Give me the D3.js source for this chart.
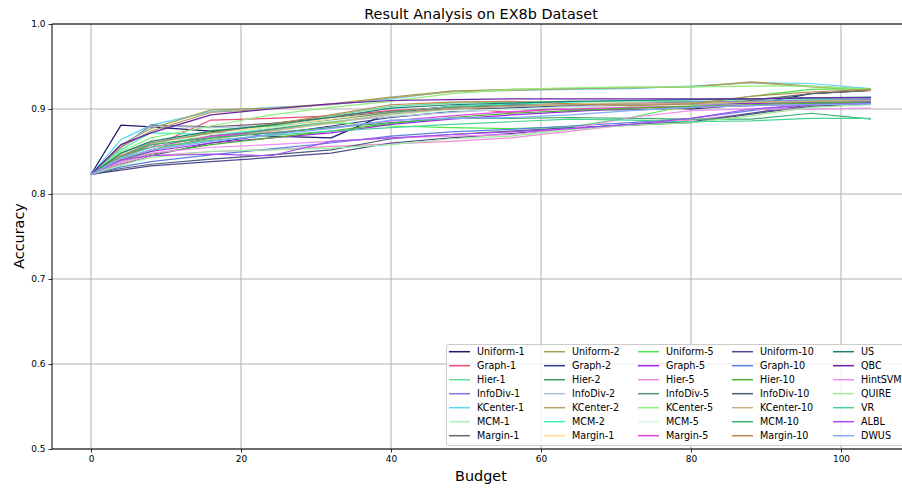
<!DOCTYPE html>
<html>
<head>
<meta charset="utf-8">
<script src="https://cdn.jsdelivr.net/npm/d3@7"></script>
<style>
  html, body { margin: 0; padding: 0; background: #fff; }
  svg { display: block; font-family: "DejaVu Sans", sans-serif; }
</style>
</head>
<body>
<svg id="chart" width="902" height="491"></svg>
<script>
// ---------- data ----------
const budgets = [0, 4, 8, 16, 24, 32, 40, 48, 56, 64, 72, 80, 88, 96, 104];
const xTicks = [0, 20, 40, 60, 80, 100];
const yTicks = [0.5, 0.6, 0.7, 0.8, 0.9, 1.0];

const uniform1  = [0.823, 0.881, 0.879, 0.874, 0.868, 0.866, 0.896, 0.903, 0.905, 0.905, 0.903, 0.900, 0.905, 0.918, 0.922];
const graph1    = [0.823, 0.846, 0.855, 0.887, 0.889, 0.892, 0.898, 0.902, 0.896, 0.902, 0.903, 0.902, 0.904, 0.907, 0.908];
const hier1     = [0.823, 0.848, 0.860, 0.872, 0.882, 0.892, 0.903, 0.907, 0.908, 0.909, 0.908, 0.909, 0.910, 0.911, 0.911];
const infoDiv1  = [0.823, 0.845, 0.858, 0.868, 0.875, 0.884, 0.895, 0.900, 0.903, 0.905, 0.907, 0.908, 0.909, 0.910, 0.911];
const kCenter1  = [0.823, 0.864, 0.881, 0.897, 0.902, 0.905, 0.912, 0.921, 0.922, 0.923, 0.924, 0.927, 0.931, 0.930, 0.924];
const mcm1      = [0.823, 0.838, 0.850, 0.865, 0.874, 0.883, 0.893, 0.899, 0.902, 0.904, 0.905, 0.907, 0.908, 0.909, 0.909];
const margin1   = [0.823, 0.855, 0.881, 0.879, 0.883, 0.890, 0.897, 0.900, 0.901, 0.899, 0.899, 0.901, 0.910, 0.918, 0.922];
const uniform2  = [0.823, 0.858, 0.877, 0.899, 0.901, 0.906, 0.914, 0.921, 0.923, 0.924, 0.925, 0.926, 0.932, 0.927, 0.923];
const graph2    = [0.823, 0.835, 0.845, 0.860, 0.870, 0.880, 0.890, 0.897, 0.901, 0.904, 0.905, 0.906, 0.907, 0.908, 0.909];
const hier2     = [0.823, 0.842, 0.858, 0.869, 0.878, 0.887, 0.897, 0.902, 0.904, 0.905, 0.906, 0.907, 0.908, 0.909, 0.910];
const infoDiv2  = [0.823, 0.854, 0.880, 0.878, 0.880, 0.885, 0.891, 0.896, 0.900, 0.903, 0.905, 0.906, 0.908, 0.909, 0.910];
const kCenter2  = [0.823, 0.855, 0.874, 0.896, 0.900, 0.905, 0.913, 0.920, 0.922, 0.924, 0.925, 0.926, 0.931, 0.926, 0.922];
const mcm2      = [0.823, 0.852, 0.872, 0.870, 0.876, 0.884, 0.895, 0.903, 0.906, 0.908, 0.910, 0.911, 0.912, 0.913, 0.913];
const margin2   = [0.823, 0.840, 0.852, 0.870, 0.880, 0.888, 0.896, 0.902, 0.904, 0.906, 0.907, 0.906, 0.908, 0.909, 0.910];
const uniform5  = [0.823, 0.838, 0.850, 0.875, 0.880, 0.884, 0.880, 0.878, 0.877, 0.879, 0.890, 0.905, 0.915, 0.923, 0.924];
const graph5    = [0.823, 0.840, 0.850, 0.860, 0.866, 0.872, 0.882, 0.888, 0.893, 0.897, 0.901, 0.904, 0.906, 0.907, 0.908];
const hier5     = [0.823, 0.836, 0.845, 0.850, 0.852, 0.856, 0.859, 0.862, 0.866, 0.874, 0.882, 0.887, 0.895, 0.904, 0.906];
const infoDiv5  = [0.823, 0.840, 0.852, 0.866, 0.876, 0.886, 0.896, 0.902, 0.904, 0.905, 0.906, 0.907, 0.908, 0.909, 0.910];
const kCenter5  = [0.823, 0.850, 0.866, 0.880, 0.893, 0.902, 0.909, 0.918, 0.923, 0.925, 0.926, 0.926, 0.927, 0.927, 0.923];
const mcm5      = [0.823, 0.846, 0.858, 0.870, 0.878, 0.886, 0.894, 0.898, 0.900, 0.902, 0.903, 0.904, 0.905, 0.906, 0.907];
const margin5   = [0.823, 0.844, 0.855, 0.868, 0.872, 0.878, 0.886, 0.892, 0.897, 0.900, 0.902, 0.903, 0.904, 0.905, 0.906];
const uniform10 = [0.823, 0.828, 0.833, 0.838, 0.843, 0.848, 0.860, 0.866, 0.871, 0.877, 0.882, 0.885, 0.895, 0.905, 0.908];
const graph10   = [0.823, 0.832, 0.838, 0.846, 0.853, 0.860, 0.868, 0.873, 0.876, 0.880, 0.884, 0.889, 0.898, 0.906, 0.909];
const hier10    = [0.823, 0.838, 0.847, 0.858, 0.866, 0.874, 0.883, 0.890, 0.895, 0.898, 0.901, 0.903, 0.905, 0.907, 0.908];
const infoDiv10 = [0.823, 0.830, 0.835, 0.841, 0.846, 0.852, 0.865, 0.870, 0.874, 0.878, 0.881, 0.884, 0.894, 0.903, 0.907];
const kCenter10 = [0.823, 0.842, 0.852, 0.864, 0.874, 0.884, 0.894, 0.900, 0.903, 0.905, 0.906, 0.907, 0.908, 0.909, 0.910];
const mcm10     = [0.823, 0.845, 0.858, 0.866, 0.872, 0.878, 0.884, 0.889, 0.889, 0.890, 0.889, 0.888, 0.888, 0.895, 0.888];
const margin10  = [0.823, 0.845, 0.860, 0.872, 0.882, 0.893, 0.905, 0.908, 0.909, 0.906, 0.904, 0.906, 0.915, 0.920, 0.923];
const us        = [0.823, 0.848, 0.862, 0.874, 0.881, 0.890, 0.901, 0.905, 0.907, 0.909, 0.910, 0.911, 0.912, 0.913, 0.914];
const qbc       = [0.823, 0.858, 0.872, 0.893, 0.900, 0.906, 0.910, 0.911, 0.912, 0.912, 0.912, 0.912, 0.912, 0.913, 0.913];
const hintSVM   = [0.823, 0.838, 0.848, 0.855, 0.858, 0.862, 0.866, 0.868, 0.870, 0.877, 0.890, 0.898, 0.900, 0.900, 0.901];
const quire     = [0.823, 0.834, 0.843, 0.850, 0.852, 0.854, 0.858, 0.865, 0.868, 0.876, 0.881, 0.884, 0.892, 0.902, 0.905];
const vr        = [0.823, 0.843, 0.855, 0.863, 0.869, 0.874, 0.878, 0.882, 0.885, 0.888, 0.887, 0.885, 0.886, 0.889, 0.889];
const albl      = [0.823, 0.840, 0.845, 0.847, 0.845, 0.862, 0.866, 0.870, 0.873, 0.877, 0.882, 0.889, 0.900, 0.905, 0.907];
const dwus      = [0.823, 0.842, 0.852, 0.862, 0.870, 0.877, 0.887, 0.889, 0.890, 0.893, 0.898, 0.902, 0.904, 0.905, 0.906];

const seriesNames = [
  "Uniform-1", "Graph-1", "Hier-1", "InfoDiv-1", "KCenter-1", "MCM-1", "Margin-1",
  "Uniform-2", "Graph-2", "Hier-2", "InfoDiv-2", "KCenter-2", "MCM-2", "Margin-1",
  "Uniform-5", "Graph-5", "Hier-5", "InfoDiv-5", "KCenter-5", "MCM-5", "Margin-5",
  "Uniform-10", "Graph-10", "Hier-10", "InfoDiv-10", "KCenter-10", "MCM-10", "Margin-10",
  "US", "QBC", "HintSVM", "QUIRE", "VR", "ALBL", "DWUS"
];
const seriesValues = [
  uniform1, graph1, hier1, infoDiv1, kCenter1, mcm1, margin1,
  uniform2, graph2, hier2, infoDiv2, kCenter2, mcm2, margin2,
  uniform5, graph5, hier5, infoDiv5, kCenter5, mcm5, margin5,
  uniform10, graph10, hier10, infoDiv10, kCenter10, mcm10, margin10,
  us, qbc, hintSVM, quire, vr, albl, dwus
];
const seriesColors = [
  "#1d1a6c", "#ee4a7c", "#62e0a2", "#9170e6", "#58d8f4", "#a8efc2", "#676767",
  "#a39e5a", "#2e3c8a", "#3d9c5c", "#aebfe0", "#b3a46e", "#40f2b8", "#ffd98f",
  "#4be84b", "#a024ee", "#f38bd9", "#5f8f75", "#8ff07a", "#d5fbe0", "#e347e3",
  "#4c4a92", "#5b7fe0", "#52b030", "#4d5a7e", "#cfae86", "#3caf6e", "#b98750",
  "#1f7f75", "#6b21a8", "#ee8ef0", "#98f098", "#48d495", "#a94af2", "#85aaff"
];

// ---------- layout ----------
const svg = d3.select("#chart");
const pLeft = 52, pRight = 910, pTop = 24, pBottom = 449;

const x = d3.scaleLinear().domain([-5.2, 109.2]).range([pLeft, pRight]);
const y = d3.scaleLinear().domain([0.5, 1.0]).range([pBottom, pTop]);

// grid
const grid = svg.append("g");
grid.selectAll("line.gx").data(xTicks).enter().append("line")
  .attr("x1", d => x(d)).attr("x2", d => x(d))
  .attr("y1", pTop).attr("y2", pBottom)
  .attr("stroke", "#b0b0b0").attr("stroke-width", 1);
grid.selectAll("line.gy").data(yTicks).enter().append("line")
  .attr("x1", pLeft).attr("x2", pRight)
  .attr("y1", d => y(d)).attr("y2", d => y(d))
  .attr("stroke", "#b0b0b0").attr("stroke-width", 1);

// lines
const line = d3.line().x((d, i) => x(budgets[i])).y(d => y(d));
const lines = svg.append("g");
seriesValues.forEach((vals, k) => {
  lines.append("path")
    .datum(vals)
    .attr("d", line)
    .attr("fill", "none")
    .attr("stroke", seriesColors[k])
    .attr("stroke-width", 1.25)
    .attr("stroke-linejoin", "round");
});

// axes
const xAxis = d3.axisBottom(x).tickValues(xTicks).tickSize(3.5).tickPadding(3).tickFormat(d3.format("d"));
const yAxis = d3.axisLeft(y).tickValues(yTicks).tickSize(3.5).tickPadding(3).tickFormat(d3.format(".1f"));
const gx = svg.append("g").attr("transform", `translate(0,${pBottom})`).call(xAxis);
const gy = svg.append("g").attr("transform", `translate(${pLeft},0)`).call(yAxis);
[gx, gy].forEach(g => {
  g.select(".domain").remove();
  g.selectAll("text").attr("font-size", 9).attr("fill", "#000").attr("font-family", "DejaVu Sans");
  g.selectAll("line").attr("stroke", "#000").attr("stroke-width", 0.8);
});

// spines
svg.append("line").attr("x1", pLeft).attr("x2", pLeft).attr("y1", pTop).attr("y2", pBottom)
  .attr("stroke", "#000").attr("stroke-width", 1);
svg.append("line").attr("x1", pLeft).attr("x2", pRight).attr("y1", pTop).attr("y2", pTop)
  .attr("stroke", "#000").attr("stroke-width", 1);
svg.append("line").attr("x1", pLeft).attr("x2", pRight).attr("y1", pBottom).attr("y2", pBottom)
  .attr("stroke", "#000").attr("stroke-width", 1);

// title and labels
svg.append("text").attr("x", 481).attr("y", 18.5).attr("text-anchor", "middle")
  .attr("font-size", 14.4).text("Result Analysis on EX8b Dataset");
svg.append("text").attr("x", 481).attr("y", 481).attr("text-anchor", "middle")
  .attr("font-size", 14.4).text("Budget");
svg.append("text").attr("transform", "translate(24,236) rotate(-90)").attr("text-anchor", "middle")
  .attr("font-size", 14.4).text("Accuracy");

// legend
const legCols = [449, 544, 638, 732, 833];
const legRow0 = 351.7, legRowStep = 14;
const leg = svg.append("g");
leg.append("rect").attr("x", 446.5).attr("y", 344.5).attr("width", 462).attr("height", 101)
  .attr("rx", 2).attr("fill", "#fff").attr("fill-opacity", 0.8)
  .attr("stroke", "#cccccc").attr("stroke-width", 1);
seriesNames.forEach((name, k) => {
  const c = Math.floor(k / 7), r = k % 7;
  const lx = legCols[c], ly = legRow0 + r * legRowStep;
  leg.append("line").attr("x1", lx).attr("x2", lx + 21).attr("y1", ly).attr("y2", ly)
    .attr("stroke", seriesColors[k]).attr("stroke-width", 1.5);
  leg.append("text").attr("x", lx + 28).attr("y", ly + 3.4)
    .attr("font-size", 9.6).attr("fill", "#000").text(name);
});
</script>
</body>
</html>
